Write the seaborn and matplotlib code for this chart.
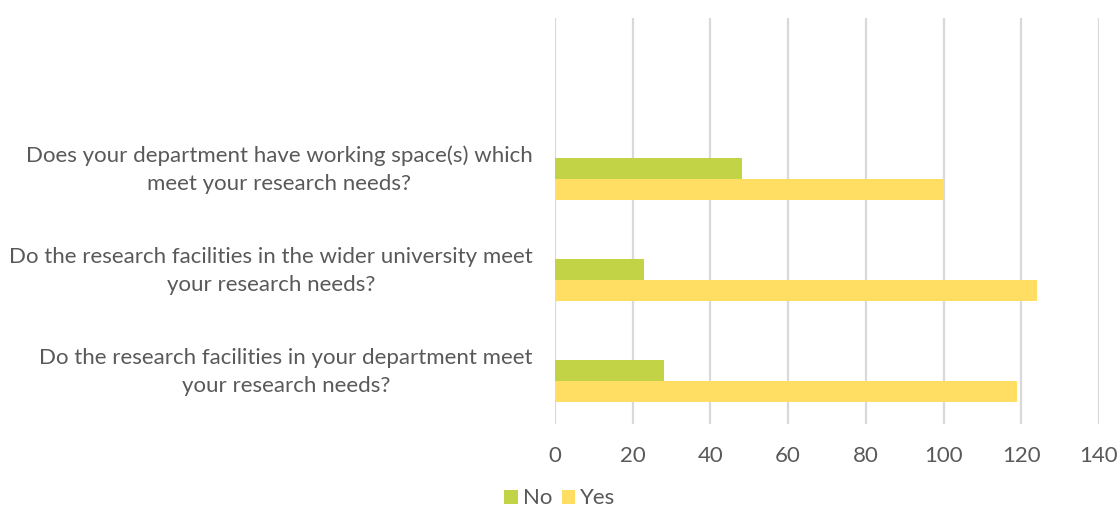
import matplotlib
matplotlib.use("Agg")
import matplotlib.pyplot as plt
import matplotlib.transforms as mtransforms
from matplotlib.patches import Patch
import seaborn as sns
import pandas as pd

# Survey questions (top to bottom) and answer counts
questions = [
    "Does your department have working space(s) which\nmeet your research needs?",
    "Do the research facilities in the wider university meet\nyour research needs?",
    "Do the research facilities in your department meet\nyour research needs?",
]
answers = ["No", "Yes"]
no_counts = [48, 23, 28]
yes_counts = [100, 124, 119]
x_ticks = [0, 20, 40, 60, 80, 100, 120, 140]

colors = {"No": "#C2D345", "Yes": "#FFDE63"}
text_color = "#595959"
grid_color = "#D9D9D9"

df = pd.DataFrame({
    "question": questions * 2,
    "answer": ["No"] * 3 + ["Yes"] * 3,
    "count": no_counts + yes_counts,
})

sns.set_theme(style="white")
plt.rcParams["font.family"] = ["Lato", "DejaVu Sans"]

fig = plt.figure(figsize=(11.2, 5.13), dpi=100)
ax = fig.add_axes([555 / 1120, 89 / 513, (1099 - 555) / 1120, (424 - 18) / 513])

sns.barplot(
    data=df, y="question", x="count", hue="answer",
    order=questions, hue_order=answers, palette=colors,
    orient="h", width=0.414, dodge=True, ax=ax, legend=False,
    edgecolor="none", saturation=1,
)

ax.set_xlim(0, 140)
ax.set_ylim(2.42, -1.585)
ax.set_xticks(x_ticks)
ax.set_xticklabels([str(t) for t in x_ticks])
ax.xaxis.grid(True, color=grid_color, linewidth=1.6)
ax.yaxis.grid(False)
ax.set_axisbelow(True)
for s in ax.spines.values():
    s.set_visible(False)
ax.set_xlabel("")
ax.set_ylabel("")
ax.tick_params(axis="x", length=0, pad=16, labelsize=16, labelcolor=text_color)
ax.tick_params(axis="y", length=0, pad=16, labelsize=16, labelcolor=text_color)

shift = mtransforms.ScaledTranslation(0, 15 / 100, fig.dpi_scale_trans)
for lbl in ax.get_yticklabels():
    lbl.set_multialignment("center")
    lbl.set_linespacing(1.5)
    lbl.set_transform(lbl.get_transform() + shift)

handles = [Patch(facecolor=colors[a], edgecolor="none", label=a) for a in answers]
fig.legend(
    handles=handles, loc="lower center", bbox_to_anchor=(0.5, -0.03), ncol=2,
    frameon=False, handlelength=0.6, handleheight=0.6, handletextpad=0.25,
    columnspacing=0.4, fontsize=16, labelcolor=text_color,
)

fig.savefig("out.png", dpi=100)
